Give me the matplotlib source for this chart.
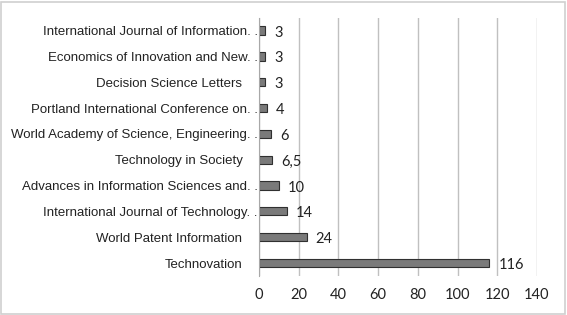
import matplotlib
matplotlib.use('Agg')
import matplotlib.pyplot as plt

# data (bottom to top)
journals = ['Technovation', 'World Patent Information',
            'International Journal of Technology', 'Advances in Information Sciences and',
            'Technology in Society', 'World Academy of Science, Engineering',
            'Portland International Conference on', 'Decision Science Letters',
            'Economics of Innovation and New', 'International Journal of Information']
truncated = [False, False, True, True, False, True, True, False, True, True]
counts = [116, 24, 14, 10, 6.5, 6, 4, 3, 3, 3]
value_labels = ['116', '24', '14', '10', '6,5', '6', '4', '3', '3', '3']
xticks = [0, 20, 40, 60, 80, 100, 120, 140]

fig = plt.figure(figsize=(5.67, 3.15), dpi=100)
ax = fig.add_axes([0.457, 0.124, 0.490, 0.820])

ypos = list(range(len(journals)))
ax.barh(ypos, counts, height=0.32, color='#7a7a7a', edgecolor='#303030', lw=0.8, zorder=3)

for y, v, s in zip(ypos, counts, value_labels):
    ax.text(v + 4.5, y - 0.08, s, va='center', ha='left', fontsize=10.5,
            family='Lato', color='#222222')

ax.set_xlim(0, 140)
ax.set_ylim(-0.5, len(journals) - 0.5)
ax.set_xticks(xticks)
ax.set_xticklabels([str(t) for t in xticks], family='Lato', fontsize=10.5, color='#222222')
ax.set_yticks(ypos)
ax.set_yticklabels([j + '. .' if t else j for j, t in zip(journals, truncated)],
                   family='Liberation Sans', fontsize=9.5, color='#222222')
for tk, t in zip(ax.yaxis.get_major_ticks(), truncated):
    tk.set_pad(1 if t else 12)
ax.tick_params(axis='x', length=0, pad=9)
ax.tick_params(axis='y', length=0)

ax.grid(axis='x', color='#c0c0c0', lw=1.0, zorder=0)
ax.set_axisbelow(True)
for sp in ('top', 'right', 'bottom'):
    ax.spines[sp].set_visible(False)
ax.spines['left'].set_color('#a8a8a8')
ax.spines['left'].set_zorder(4)

# light frame round the whole chart
fig.patches.append(plt.Rectangle((0.002, 0.004), 0.995, 0.99, transform=fig.transFigure,
                                 fill=False, edgecolor='#d0d0d0', lw=1.2))

fig.savefig('out.png', dpi=100, facecolor='white')
